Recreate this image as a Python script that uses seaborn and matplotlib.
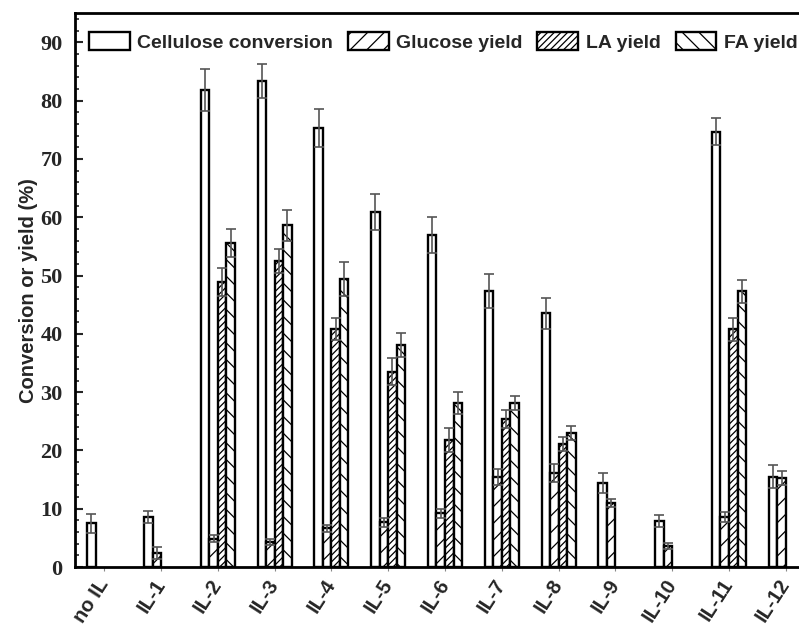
import numpy as np
import pandas as pd
import matplotlib
matplotlib.use("Agg")
import matplotlib.pyplot as plt
from matplotlib.ticker import MultipleLocator, AutoMinorLocator
import seaborn as sns

# data
categories = ["no IL", "IL-1", "IL-2", "IL-3", "IL-4", "IL-5", "IL-6",
              "IL-7", "IL-8", "IL-9", "IL-10", "IL-11", "IL-12"]
series_names = ["Cellulose conversion", "Glucose yield", "LA yield", "FA yield"]
nan = np.nan

cellulose = [7.5, 8.6, 81.8, 83.3, 75.3, 60.9, 56.9, 47.3, 43.5, 14.4, 7.9, 74.7, 15.5]
cellulose_err = [1.6, 1.1, 3.6, 2.9, 3.2, 3.1, 3.1, 2.9, 2.6, 1.7, 1.0, 2.3, 2.0]
glucose = [nan, 2.4, 4.9, 4.3, 6.7, 7.7, 9.2, 15.5, 16.1, 11.0, 3.6, 8.6, 15.2]
glucose_err = [nan, 1.0, 0.6, 0.5, 0.6, 0.8, 0.7, 1.4, 1.5, 0.7, 0.5, 0.8, 1.2]
la = [nan, nan, 48.9, 52.5, 40.8, 33.5, 21.8, 25.4, 21.1, nan, nan, 40.8, nan]
la_err = [nan, nan, 2.4, 2.0, 1.9, 2.3, 2.0, 1.5, 1.2, nan, nan, 2.0, nan]
fa = [nan, nan, 55.5, 58.6, 49.4, 38.1, 28.1, 28.1, 23.0, nan, nan, 47.3, nan]
fa_err = [nan, nan, 2.4, 2.6, 2.9, 2.0, 1.9, 1.2, 1.2, nan, nan, 2.0, nan]

values = [cellulose, glucose, la, fa]
errors = [cellulose_err, glucose_err, la_err, fa_err]
hatches = ["", "//", "/////", "\\\\"]

# long form table for seaborn
rows = []
for name, vals in zip(series_names, values):
    for cat, v in zip(categories, vals):
        rows.append({"sample": cat, "series": name, "value": v})
df = pd.DataFrame(rows)

sns.set_style("ticks")
plt.rcParams["font.family"] = ["Liberation Sans", "DejaVu Sans"]
plt.rcParams["hatch.linewidth"] = 0.9

fig = plt.figure(figsize=(7.99, 6.28), dpi=100)
ax = fig.add_axes([0.094, 0.097, 0.925, 0.882])

sns.barplot(data=df, x="sample", y="value", hue="series", order=categories,
            hue_order=series_names, palette=["white"] * 4, edgecolor="black",
            linewidth=1.7, width=0.6, errorbar=None, legend=False, ax=ax)

bar_containers = list(ax.containers)
for cont, h, errs in zip(bar_containers, hatches, errors):
    xs, ys, es = [], [], []
    for p in cont.patches:
        p.set_hatch(h)
        p.set_edgecolor("black")
        x = p.get_x() + p.get_width() / 2
        idx = int(round(x))
        if np.isnan(p.get_height()):
            continue
        xs.append(x)
        ys.append(p.get_height())
        es.append(errs[idx])
    ax.errorbar(xs, ys, yerr=es, fmt="none", ecolor="#555555",
                elinewidth=1.2, capsize=3.5, capthick=1.2, zorder=3)

ax.legend(bar_containers, series_names, ncol=4, loc="upper left",
          bbox_to_anchor=(0.0, 0.99), frameon=False,
          prop={"weight": "bold", "size": 14},
          handlelength=2.1, handleheight=1.0, handletextpad=0.4,
          columnspacing=0.75, borderaxespad=0.3)

ax.set_xlim(-0.513, 12.5)
ax.set_ylim(0, 95)
ax.yaxis.set_major_locator(MultipleLocator(10))
ax.yaxis.set_minor_locator(AutoMinorLocator(5))
ax.tick_params(axis="y", which="major", direction="in", length=6, width=1.5, pad=9)
ax.tick_params(axis="y", which="minor", direction="in", length=3, width=1.2)
ax.tick_params(axis="x", direction="out", length=3, width=0.8, color="#888888")

for s in ax.spines.values():
    s.set_linewidth(2)
    s.set_color("black")

ax.set_xlabel("")
ax.set_ylabel("Conversion or yield (%)", fontsize=14.5, fontweight="bold", labelpad=2)

for lab in ax.get_yticklabels():
    lab.set_fontfamily("Liberation Serif")
    lab.set_fontweight("bold")
    lab.set_fontsize(16)

ax.set_xticks(range(len(categories)))
ax.set_xticklabels(categories, rotation=57, ha="right", va="center",
                   rotation_mode="anchor", fontsize=14.5, fontweight="bold")
ax.tick_params(axis="x", pad=7)

fig.savefig("out.png", dpi=100)
